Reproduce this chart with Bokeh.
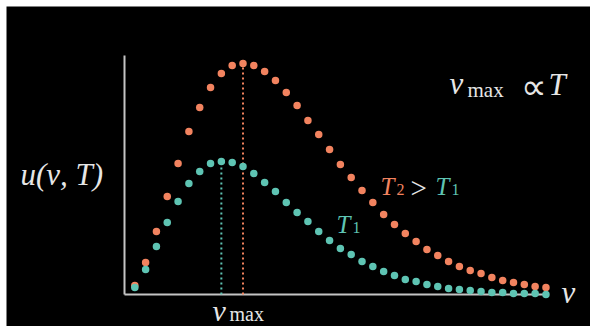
from bokeh.plotting import figure
from bokeh.models import Range1d, ColumnDataSource
from bokeh.core.properties import value
from bokeh.embed import file_html
from bokeh.resources import INLINE

# frequency index (nu) and spectral energy density u(nu, T), arbitrary units
nu = list(range(1, 40))
u_T2 = [0.09, 0.32, 0.63, 0.98, 1.31, 1.63, 1.87, 2.07, 2.21, 2.29, 2.31, 2.29, 2.23,
        2.14, 2.02, 1.89, 1.74, 1.60, 1.45, 1.30, 1.17, 1.04, 0.92, 0.80, 0.70, 0.61,
        0.53, 0.45, 0.39, 0.33, 0.28, 0.24, 0.21, 0.17, 0.14, 0.12, 0.10, 0.08, 0.07]
u_T1 = [0.07, 0.25, 0.48, 0.72, 0.93, 1.11, 1.23, 1.31, 1.33, 1.32, 1.28, 1.21, 1.12,
        1.03, 0.92, 0.82, 0.73, 0.63, 0.54, 0.46, 0.40, 0.33, 0.28, 0.23, 0.19, 0.15,
        0.13, 0.10, 0.08, 0.06, 0.05, 0.04, 0.03, 0.02, 0.02, 0.01, 0.01, 0.01, 0.00]

ORANGE = "#F2835F"
TEAL = "#5EC4B3"
WHITE = "#E6E6E6"
AXIS = "#C4C4C4"

# page pixel -> data helpers (used for frame extent and text placement)
def dx(px):
    return (px - 134.3) / 10.82 + 1
def dy(py):
    return (294 - py) / 100.0

W, H = 584, 320
p = figure(width=W, height=H, output_backend="svg", toolbar_location=None,
           x_range=Range1d(dx(6), dx(6 + W)), y_range=Range1d(dy(6 + H), dy(6)),
           min_border=0, x_axis_type=None, y_axis_type=None)
p.margin = (6, 0, 0, 6)
p.background_fill_color = "black"
p.border_fill_color = "black"
p.outline_line_color = None
p.grid.visible = False

# axes (drawn as lines, no ticks)
x_lo, x_hi, y_hi = dx(124), dx(548), dy(55)
p.segment(x0=[x_lo, x_lo], y0=[0, 0], x1=[x_lo, x_hi], y1=[y_hi, 0],
          line_color=AXIS, line_width=2)

# peak markers (dotted verticals)
i2 = u_T2.index(max(u_T2))
i1 = u_T1.index(max(u_T1))
p.segment(x0=[nu[i1]], y0=[0], x1=[nu[i1]], y1=[u_T1[i1]], line_color=TEAL,
          line_width=2, line_dash="2 3")
p.segment(x0=[nu[i2]], y0=[0], x1=[nu[i2]], y1=[u_T2[i2]], line_color=ORANGE,
          line_width=2, line_dash="2 3")

src = ColumnDataSource(dict(nu=nu, t2=u_T2, t1=u_T1))
p.scatter("nu", "t2", source=src, size=7.5, color=ORANGE, line_color=None)
p.scatter("nu", "t1", source=src, size=7.5, color=TEAL, line_color=None)

FONT = "Liberation Serif"
SHIFT = 8
def lab(text, px, py, size, color=WHITE, style="normal"):
    p.text(x=[dx(px)], y=[dy(py - SHIFT)], text=[text], text_font=value(FONT),
           text_font_size=value(f"{size}px"), text_color=color,
           text_font_style=style, text_baseline="alphabetic", text_align="left")

lab("u(ν, T)", 20, 182, 31, style="italic")
lab("ν", 449, 91, 31, style="italic")
lab("max", 467, 97, 21)
lab("∝", 520, 94, 36)
lab("T", 548, 92, 31, style="italic")

lab("T", 380, 194, 25, ORANGE, "italic")
lab("2", 396, 197, 16, ORANGE)
lab(">", 410, 195, 29)
lab("T", 435, 194, 25, TEAL, "italic")
lab("1", 451, 197, 16, TEAL)

lab("T", 336, 232, 25, TEAL, "italic")
lab("1", 352, 235, 16, TEAL)

lab("ν", 561, 300, 31, style="italic")
lab("ν", 212, 318, 30, style="italic")
lab("max", 229, 321, 20)

open("out.html", "w").write(file_html(p, INLINE))
